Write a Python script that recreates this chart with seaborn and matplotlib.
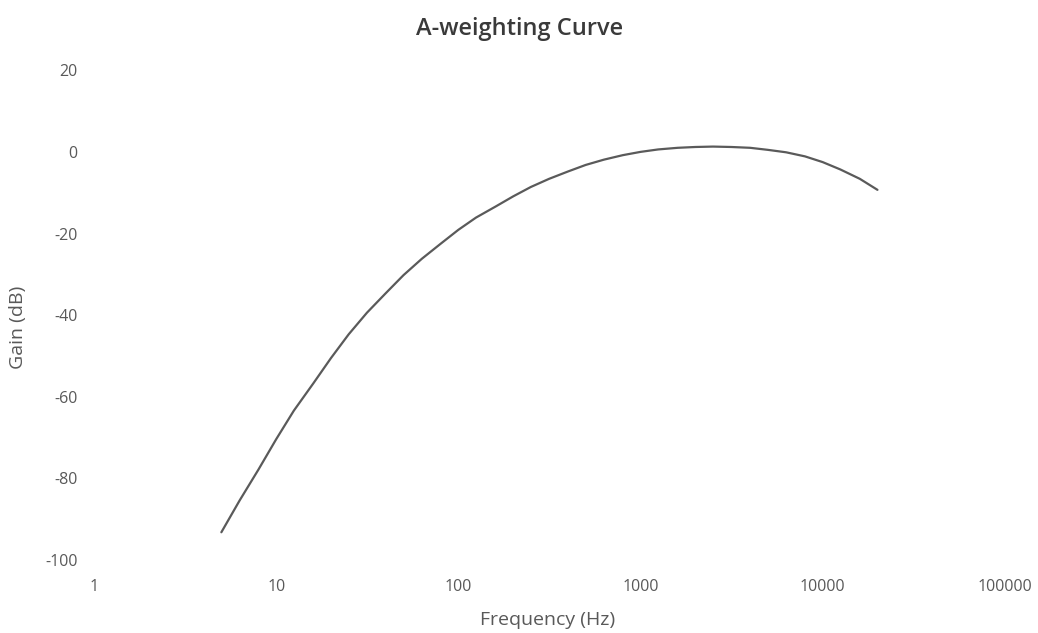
import matplotlib
matplotlib.use("Agg")
import matplotlib.pyplot as plt
import seaborn as sns
import pandas as pd
from matplotlib.ticker import FixedLocator, FixedFormatter, NullLocator

# A-weighting gain at standard one-third-octave frequencies
freq_hz = [5, 6.3, 8, 10, 12.5, 16, 20, 25, 31.5, 40, 50, 63, 80, 100, 125, 160,
           200, 250, 315, 400, 500, 630, 800, 1000, 1250, 1600, 2000, 2500, 3150,
           4000, 5000, 6300, 8000, 10000, 12500, 16000, 20000]
gain_db = [-93.2, -85.4, -77.8, -70.4, -63.4, -56.7, -50.5, -44.7, -39.4, -34.6,
           -30.2, -26.2, -22.5, -19.1, -16.1, -13.4, -10.9, -8.6, -6.6, -4.8, -3.2,
           -1.9, -0.8, 0.0, 0.6, 1.0, 1.2, 1.3, 1.2, 1.0, 0.5, -0.1, -1.1, -2.5,
           -4.3, -6.6, -9.3]

x_ticks = [1, 10, 100, 1000, 10000, 100000]
x_tick_labels = ["1", "10", "100", "1000", "10000", "100000"]
y_ticks = [-100, -80, -60, -40, -20, 0, 20]
y_tick_labels = ["-100", "-80", "-60", "-40", "-20", "0", "20"]

sns.set_theme(style="white")
plt.rcParams["font.family"] = ["Open Sans", "DejaVu Sans"]

df = pd.DataFrame({"Frequency (Hz)": freq_hz, "Gain (dB)": gain_db})

fig = plt.figure(figsize=(10.38, 6.33), dpi=100)
ax = fig.add_axes([0.0906, 0.1153, 0.8774, 0.7737])

sns.lineplot(data=df, x="Frequency (Hz)", y="Gain (dB)", ax=ax,
             color="#5a5a5a", linewidth=1.6)

ax.set_xscale("log")
ax.set_xlim(1, 100000)
ax.set_ylim(-100, 20)
ax.xaxis.set_major_locator(FixedLocator(x_ticks))
ax.xaxis.set_major_formatter(FixedFormatter(x_tick_labels))
ax.xaxis.set_minor_locator(NullLocator())
ax.yaxis.set_major_locator(FixedLocator(y_ticks))
ax.yaxis.set_major_formatter(FixedFormatter(y_tick_labels))

for s in ax.spines.values():
    s.set_visible(False)
ax.grid(False)
ax.tick_params(axis="both", length=0, labelsize=11.5, colors="#595959")
ax.tick_params(axis="x", pad=14)
ax.tick_params(axis="y", pad=12)

ax.set_xlabel("Frequency (Hz)", fontsize=14, color="#595959")
ax.xaxis.set_label_coords(0.498, -0.1224)
ax.xaxis.label.set_va("center")
ax.set_ylabel("Gain (dB)", fontsize=14, color="#595959")
ax.yaxis.set_label_coords(-0.0834, 0.4755)
ax.yaxis.label.set_va("center")
ax.yaxis.label.set_ha("center")

fig.text(520 / 1038, 1 - 29 / 633, "A-weighting Curve", fontsize=17,
         fontweight="semibold", color="#3a3a3a", ha="center", va="center")

fig.savefig("out.png", dpi=100, facecolor="white")
